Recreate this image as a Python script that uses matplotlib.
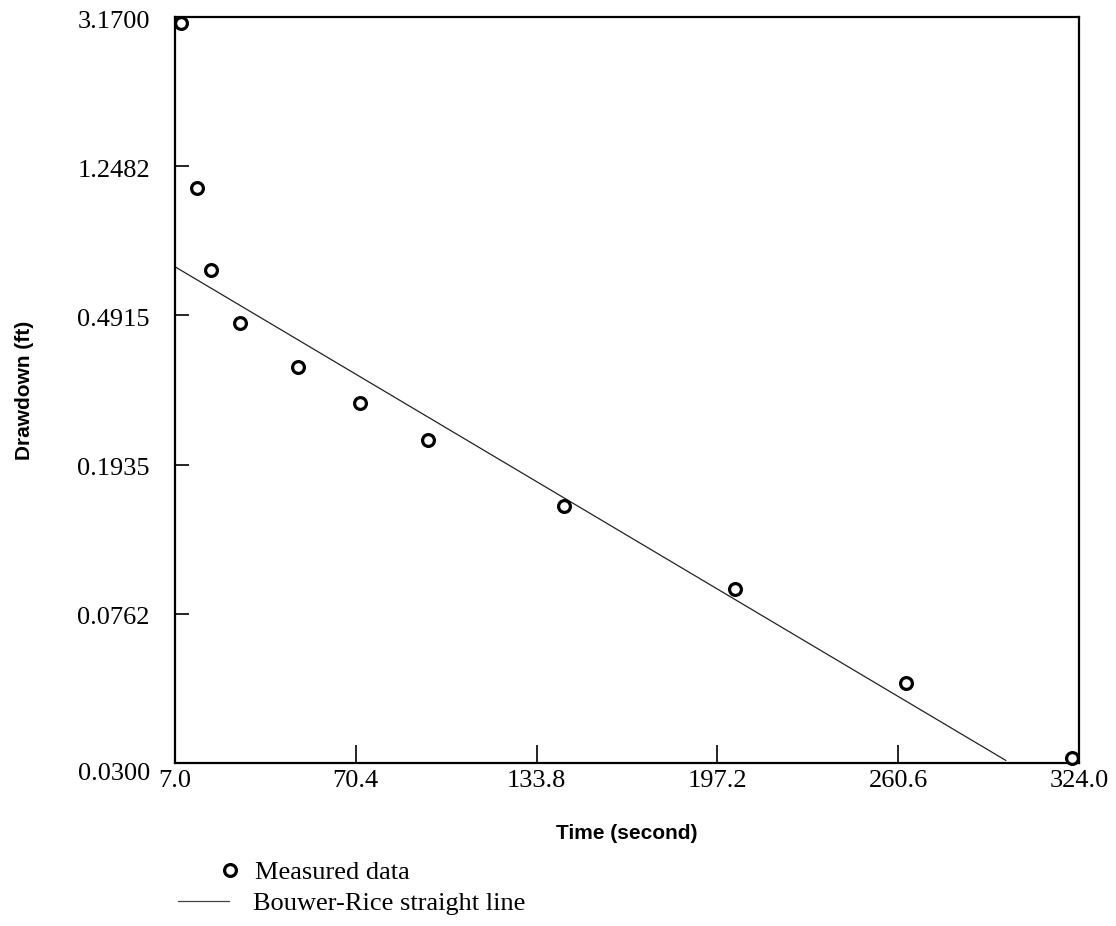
import matplotlib
matplotlib.use("Agg")
import matplotlib.pyplot as plt
from matplotlib.lines import Line2D
from matplotlib.transforms import ScaledTranslation

# ---- data ----
time_s = [9.0, 14.8, 19.6, 29.8, 50.0, 71.9, 95.7, 143.4, 203.4, 263.3, 321.7]
drawdown_ft = [3.05, 1.087, 0.651, 0.470, 0.356, 0.285, 0.226, 0.149, 0.0889, 0.0493, 0.0310]

line_time = [7.0, 298.3]
line_drawdown = [0.666, 0.0305]

x_ticks = [7.0, 70.4, 133.8, 197.2, 260.6, 324.0]
x_tick_labels = ["7.0", "70.4", "133.8", "197.2", "260.6", "324.0"]
y_ticks = [0.03, 0.0762, 0.1935, 0.4915, 1.2482, 3.17]
y_tick_labels = ["0.0300", "0.0762", "0.1935", "0.4915", "1.2482", "3.1700"]

legend_labels = ["Measured data", "Bouwer-Rice straight line"]

serif = ["Liberation Serif", "DejaVu Serif"]
sans = ["Liberation Sans", "DejaVu Sans"]
W, H = 1116, 926
FS = 19

fig = plt.figure(figsize=(W / 100, H / 100), dpi=100)
ax = fig.add_axes([175 / W, 1 - 763 / H, (1079 - 175) / W, (763 - 17) / H])

ax.plot(line_time, line_drawdown, color="#222222", lw=0.9, zorder=2)
ax.plot(time_s, drawdown_ft, linestyle="none", marker="o", markersize=8.5,
        markerfacecolor="white", markeredgecolor="black", markeredgewidth=2.3,
        clip_on=False, zorder=3)

ax.set_yscale("log")
ax.set_xlim(7.0, 324.0)
ax.set_ylim(0.03, 3.17)
ax.set_xticks(x_ticks)
ax.set_xticklabels(x_tick_labels, fontfamily=serif, fontsize=FS)
ax.set_yticks(y_ticks)
ax.set_yticklabels(y_tick_labels, fontfamily=serif, fontsize=FS)
ax.minorticks_off()

ax.tick_params(axis="x", direction="in", length=13, width=1.2, pad=5, top=False)
ax.tick_params(axis="y", direction="in", length=10, width=1.2, pad=18, right=False)
for sp in ax.spines.values():
    sp.set_linewidth(1.6)
    sp.set_color("black")

# small vertical offsets of the y tick labels (as in the original scan)
for i, lab in enumerate(ax.get_yticklabels()):
    dy = -9 if i == 0 else -2
    lab.set_transform(lab.get_transform() + ScaledTranslation(0, dy / 100, fig.dpi_scale_trans))

ax.set_xlabel("Time (second)", fontfamily=sans, fontweight="bold", fontsize=15, labelpad=23)
ax.set_ylabel("Drawdown (ft)", fontfamily=sans, fontweight="bold", fontsize=15, labelpad=31)

marker_handle = Line2D([], [], linestyle="none", marker="o", markersize=8.5,
                       markerfacecolor="white", markeredgecolor="black", markeredgewidth=2.3)
line_handle = Line2D([], [], color="#444444", lw=0.9)

leg1 = fig.legend([marker_handle], [legend_labels[0]], loc="center left",
                  bbox_to_anchor=(217 / W, 1 - 872 / H), frameon=False,
                  prop={"family": serif, "size": FS}, handlelength=1.0,
                  handletextpad=0.45, borderpad=0, borderaxespad=0)
leg2 = fig.legend([line_handle], [legend_labels[1]], loc="center left",
                  bbox_to_anchor=(178 / W, 1 - 903 / H), frameon=False,
                  prop={"family": serif, "size": FS}, handlelength=1.95,
                  handletextpad=0.9, borderpad=0, borderaxespad=0)

fig.savefig("out.png", dpi=100)
